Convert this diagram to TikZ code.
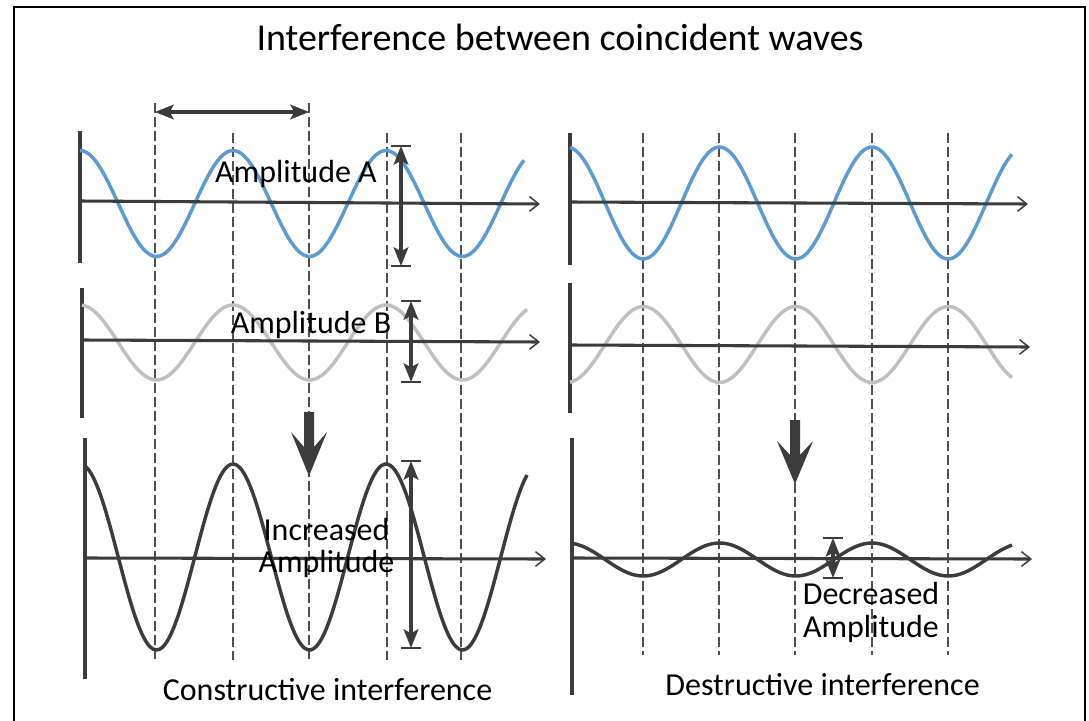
\documentclass[tikz,border=0pt]{standalone}
\usepackage{fontspec}
\setmainfont{Carlito}
\usetikzlibrary{arrows.meta}
\definecolor{wblue}{HTML}{5B9BD5}
\definecolor{wgray}{HTML}{C0C0C0}
\definecolor{dk}{HTML}{3C3C3C}
\definecolor{dsh}{HTML}{505050}
\begin{document}
\begin{tikzpicture}[x=0.75pt,y=-0.75pt,
  vaxis/.style={draw=dk, line width=2.5pt},
  haxis/.style={draw=dk, line width=2.3pt, -{Straight Barb[length=7pt,width=11pt,line width=1.1pt]}},
  wave/.style={line width=2.6pt},
  guide/.style={draw=dsh, line width=0.8pt, dash pattern=on 7.5pt off 3pt},
  dimarrow/.style={draw=dk, line width=2.4pt, {Stealth[length=14pt,width=11pt,inset=3pt]}-{Stealth[length=14pt,width=11pt,inset=3pt]}},
  endbar/.style={draw=dk, line width=1.1pt},
  bigarrow/.style={fill=dk, draw=none},
  lbl/.style={font=\fontsize{24}{24}\selectfont, anchor=base, align=center, inner sep=0pt},
  ttl/.style={font=\fontsize{28.5}{30}\selectfont, anchor=base, inner sep=0pt}
]
\useasboundingbox (0,0) rectangle (1089,721);
% frame
\draw[line width=2.2pt] (14,730) -- (14,7) -- (1085,7) -- (1085,730);

% title
\node[ttl] (title) at (560,50) {Interference between coincident waves};

% dashed guides
\foreach \gx/\gt/\gb in {155/103/662, 233/133/660, 309/103/660, 387/133/660, 461/133/660,
                         643/133/655, 719/133/655, 795/133/655, 872/133/655, 948/133/655}
  \draw[guide] (\gx,\gt) -- (\gx,\gb);

% ---------- left column ----------
\coordinate (l1t) at (80,131); \coordinate (l1b) at (80,263);
\coordinate (l1o) at (80,201); \coordinate (l1e) at (540,204);
\draw[vaxis] (l1t) -- (l1b);
\draw[wave, wblue] plot[domain=80:524, samples=150, smooth] (\x, {203.5-53*cos(2.352941*(\x-80))});
\draw[haxis] (l1o) -- (l1e);

\coordinate (l2t) at (82,288); \coordinate (l2b) at (82,418);
\coordinate (l2o) at (82,340); \coordinate (l2e) at (540,342);
\draw[vaxis] (l2t) -- (l2b);
\draw[wave, wgray] plot[domain=82:527, samples=150, smooth] (\x, {342.5-37.5*cos(2.352941*(\x-80))});
\draw[haxis] (l2o) -- (l2e);

\coordinate (l3t) at (85,438); \coordinate (l3b) at (85,679);
\coordinate (l3o) at (85,558); \coordinate (l3e) at (546,559);
\draw[vaxis] (l3t) -- (l3b);
\draw[wave, dk] plot[domain=85:527, samples=150, smooth] (\x, {557-93*cos(2.352941*(\x-80))});
\draw[haxis] (l3o) -- (l3e);

% wavelength arrow
\coordinate (wlL) at (155,112); \coordinate (wlR) at (309,112);
\draw[dimarrow] (wlL) -- (wlR);

% amplitude A
\coordinate (aT) at (401,146); \coordinate (aB) at (401,266);
\draw[endbar] (391,146) -- (411,146);
\draw[endbar] (391,266) -- (411,266);
\draw[dimarrow] (aT) -- (aB);
\node[lbl] (ampA) at (296,182) {Amplitude A};

% amplitude B
\coordinate (bT) at (411,301); \coordinate (bB) at (411,382);
\draw[endbar] (401,301) -- (421,301);
\draw[endbar] (401,382) -- (421,382);
\draw[dimarrow] (bT) -- (bB);
\node[lbl] (ampB) at (311,333) {Amplitude B};

% big arrow left
\fill[bigarrow] (304,412) -- (314,412) -- (314,447) -- (327,432) -- (309,476) -- (291,432) -- (304,447) -- cycle;

% increased amplitude
\coordinate (cT) at (411,461); \coordinate (cB) at (411,648);
\draw[endbar] (401,461) -- (421,461);
\draw[endbar] (401,648) -- (421,648);
\draw[dimarrow] (cT) -- (cB);
\node[lbl, font=\fontsize{24}{23.3}\selectfont] (incA) at (326.5,572) {Increased\\Amplitude};

\node[lbl] (cons) at (327.5,700) {Constructive interference};

% ---------- right column ----------
\coordinate (r1t) at (570,133); \coordinate (r1b) at (570,265);
\coordinate (r1o) at (570,202); \coordinate (r1e) at (1028,204);
\draw[vaxis] (r1t) -- (r1b);
\draw[wave, wblue] plot[domain=570:1012, samples=150, smooth] (\x, {203-56*cos(2.360656*(\x-567))});
\draw[haxis] (r1o) -- (r1e);

\coordinate (r2t) at (570,283); \coordinate (r2b) at (570,413);
\coordinate (r2o) at (570,345); \coordinate (r2e) at (1030,347);
\draw[vaxis] (r2t) -- (r2b);
\draw[wave, wgray] plot[domain=570:1012, samples=150, smooth] (\x, {344.5+38*cos(2.360656*(\x-567))});
\draw[haxis] (r2o) -- (r2e);

\coordinate (r3t) at (572,438); \coordinate (r3b) at (572,695);
\coordinate (r3o) at (572,558); \coordinate (r3e) at (1032,559);
\draw[vaxis] (r3t) -- (r3b);
\draw[wave, dk] plot[domain=572:1012, samples=150, smooth] (\x, {559.5-16.5*cos(2.360656*(\x-567))});
\draw[haxis] (r3o) -- (r3e);

% big arrow right
\fill[bigarrow] (790,420) -- (800,420) -- (800,455) -- (813,441) -- (795,484) -- (777,441) -- (790,455) -- cycle;

% decreased amplitude
\coordinate (dT) at (833,538); \coordinate (dB) at (833,578);
\draw[endbar] (823,538) -- (843,538);
\draw[endbar] (823,578) -- (843,578);
\draw[dimarrow] (dT) -- (dB);
\node[lbl, font=\fontsize{24}{24.5}\selectfont] (decA) at (871,637) {Decreased\\Amplitude};

\node[lbl] (dest) at (822.5,695) {Destructive interference};
\end{tikzpicture}
\end{document}
